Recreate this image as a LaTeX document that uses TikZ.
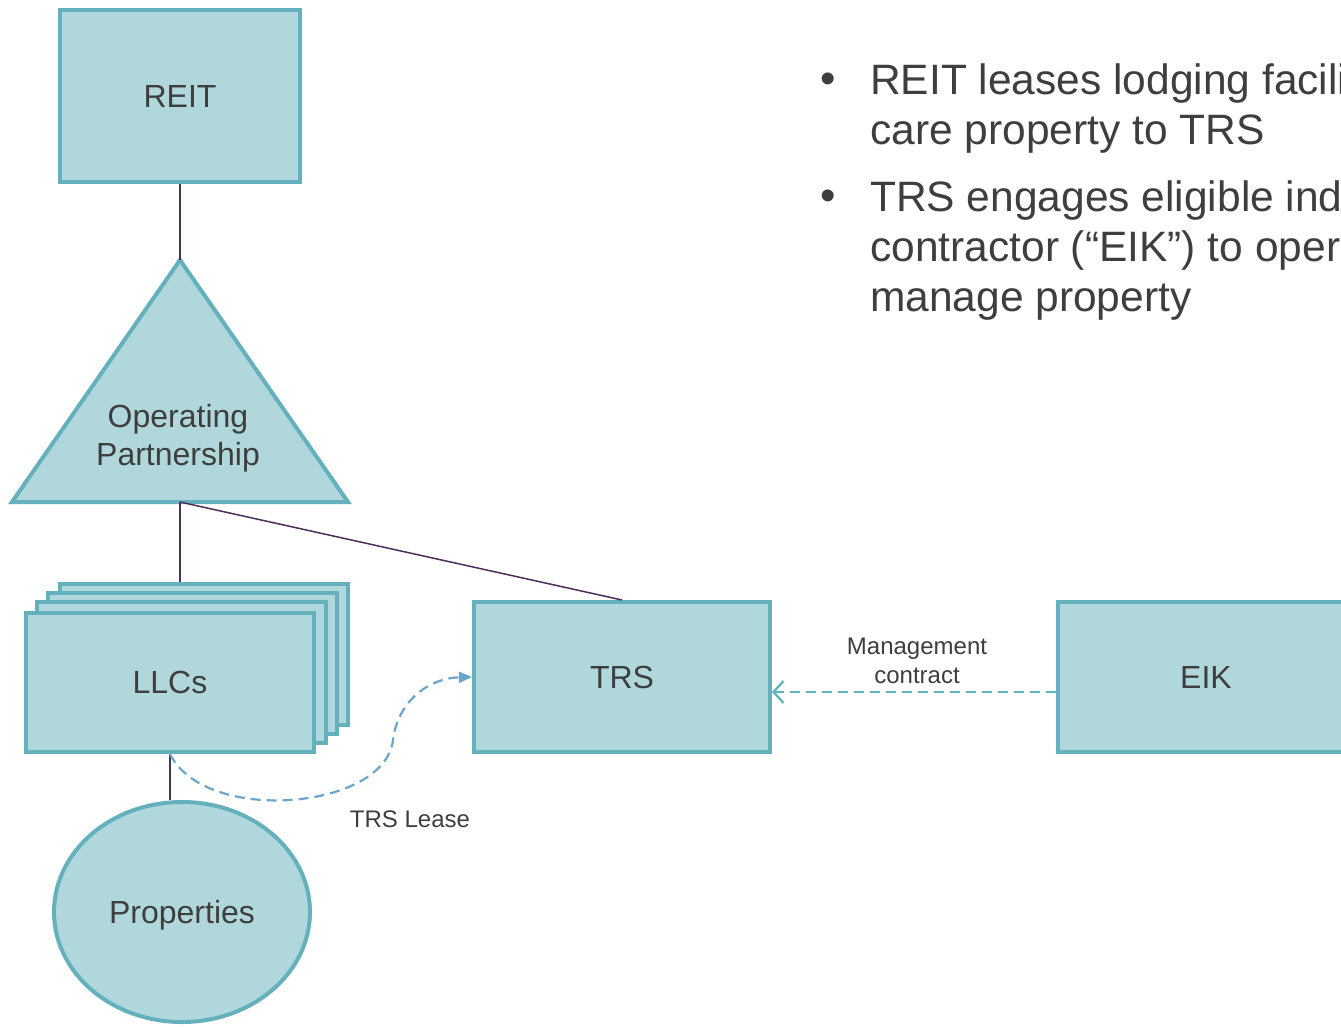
\documentclass[tikz,border=0pt]{standalone}
\usepackage{fontspec}
\setmainfont{Liberation Sans}
\usetikzlibrary{arrows.meta,shapes.geometric}
\definecolor{boxfill}{HTML}{B0D8DC}
\definecolor{boxline}{HTML}{64B1BD}
\definecolor{linkc}{HTML}{4F2D5C}
\definecolor{leasec}{HTML}{6AA6CA}
\definecolor{mgmtc}{HTML}{5CB4C0}
\definecolor{txt}{HTML}{3E3E3E}
\begin{document}
\begin{tikzpicture}[x=1pt,y=-1pt,
  box/.style={draw=boxline,fill=boxfill,line width=4pt,inner sep=0pt,text=txt,
    text depth=0pt,font=\fontsize{32}{38}\selectfont},
  link/.style={draw=linkc,line width=1.5pt},
  lbl/.style={text=txt,inner sep=0pt,font=\fontsize{24}{29}\selectfont,align=center},
  bul/.style={text=txt,inner sep=0pt,anchor=base west,font=\fontsize{42.5}{49}\selectfont},
  dot/.style={text=txt,inner sep=0pt,anchor=base,font=\fontsize{44}{49}\selectfont}]
\useasboundingbox (0,0) rectangle (1341,1026);
\clip (0,0) rectangle (1341,1026);

% REIT
\node[box,minimum width=240pt,minimum height=172pt] (reit) at (180,96) {REIT};

% Operating partnership triangle
\coordinate (opA) at (180,260);
\coordinate (opB) at (180,502);
\draw[draw=boxline,fill=boxfill,line width=4pt,line join=miter] (opA) -- (348,502) -- (12,502) -- cycle;
\node[text=txt,inner sep=0pt,align=center,font=\fontsize{32}{38}\selectfont] (op) at (178,438) {Operating\\Partnership};

% LLC stack
\node[box,minimum width=288pt,minimum height=141pt] (llc3) at (204,654.5) {};
\node[box,minimum width=289pt,minimum height=141pt] (llc2) at (192.5,663.5) {};
\node[box,minimum width=289pt,minimum height=141pt] (llc1) at (181.5,672.5) {};
\node[box,minimum width=288pt,minimum height=139pt] (llc) at (170,682.5) {LLCs};

% Properties
\node[box,ellipse,minimum width=256pt,minimum height=220pt] (prop) at (182,912) {Properties};

% TRS and EIK
\node[box,minimum width=296pt,minimum height=150pt] (trs) at (622,677) {TRS};
\node[box,minimum width=296pt,minimum height=150pt] (eik) at (1206,677) {EIK};

% ownership links
\draw[link] (reit.south) -- (opA);
\draw[link] (opB) -- (opB |- llc3.north);
\draw[link] (opB) -- (trs.north);
\draw[link] (llc.south) -- (llc.south |- prop.north);

% TRS lease
\draw[draw=leasec,line width=2.2pt,dash pattern=on 10pt off 6pt,
  -{Triangle[length=13pt,width=11pt]}]
  (llc.south) .. controls (205,825) and (385,810) .. (393,740)
  .. controls (398,700) and (430,678) .. (trs.west);
\node[lbl] (lease) at (410,819) {TRS Lease};

% Management contract
\draw[draw=mgmtc,line width=2.2pt,dash pattern=on 10pt off 6pt,
  -{Straight Barb[length=10pt,width=22pt,line width=2.2pt]}]
  (eik.west |- 0,692) coordinate (mA) -- (trs.east |- mA);
\node[lbl] (mgmt) at (917,661) {Management\\contract};

% bullets
\node[dot] (d1) at (828,93) {•};
\node[bul] (b1a) at (870,94) {REIT leases lodging facili};
\node[bul] (b1b) at (870,144) {care property to TRS};
\node[dot] (d2) at (828,210) {•};
\node[bul] (b2a) at (870,211) {TRS engages eligible ind};
\node[bul] (b2b) at (870,261) {contractor (“EIK”) to oper};
\node[bul] (b2c) at (870,311) {manage property};
\end{tikzpicture}
\end{document}
